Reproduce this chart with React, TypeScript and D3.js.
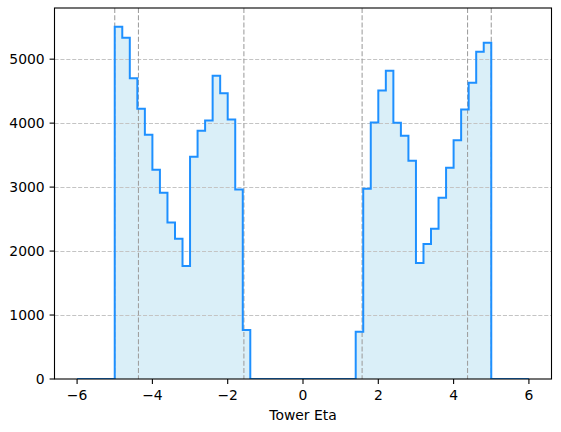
import React from "react";
import * as d3 from "d3";

// Histogram of tower eta: 60 bins of width 0.2 from -6 to 6
const binStart = -6;
const binWidth = 0.2;
const counts = [
  0, 0, 0, 0, 0,
  5505, 5333, 4703, 4224, 3818, 3271, 2911, 2448, 2193, 1766,
  3474, 3880, 4042, 4740, 4469, 4057, 2964, 766,
  0, 0, 0, 0, 0, 0, 0, 0, 0, 0, 0, 0, 0, 0,
  740, 2974, 4010, 4510, 4818, 4005, 3802, 3411, 1813, 2109,
  2349, 2833, 3302, 3734, 4214, 4630, 5115, 5255,
  0, 0, 0, 0, 0,
];
const boundaryLines = [-5.0, -4.37, -1.57, 1.57, 4.37, 5.0];
const xTicks = [-6, -4, -2, 0, 2, 4, 6];
const yTicks = [0, 1000, 2000, 3000, 4000, 5000];
const xLabel = "Tower Eta";

const W = 561;
const H = 432;
const left = 54.5;
const right = 551.5;
const top = 8;
const bottom = 379;
const FONT = "DejaVu Sans, Liberation Sans, sans-serif";

export default function App() {
  const x = d3.scaleLinear().domain([-6.6, 6.6]).range([left, right]);
  const y = d3.scaleLinear().domain([0, 5800]).range([bottom, top]);

  const pts: [number, number][] = [];
  counts.forEach((c, i) => {
    const e0 = binStart + i * binWidth;
    const e1 = e0 + binWidth;
    pts.push([e0, c]);
    pts.push([e1, c]);
  });

  const line = d3
    .line<[number, number]>()
    .x((d) => x(d[0]))
    .y((d) => y(d[1]));
  const area = d3
    .area<[number, number]>()
    .x((d) => x(d[0]))
    .y0(y(0))
    .y1((d) => y(d[1]));

  return (
    <svg
      width={W}
      height={H}
      style={{ position: "absolute", left: 0, top: 0, background: "#fff" }}
      fontFamily={FONT}
    >
      <rect x={0} y={0} width={W} height={H} fill="#fff" />
      <defs>
        <clipPath id="plotclip">
          <rect x={left} y={top} width={right - left} height={bottom - top} />
        </clipPath>
      </defs>
      <g clipPath="url(#plotclip)">
        <path d={area(pts) || ""} fill="#daeff8" stroke="none" />
        {yTicks.map((t) => (
          <line
            key={"g" + t}
            x1={left}
            x2={right}
            y1={Math.round(y(t)) + 0.5}
            y2={Math.round(y(t)) + 0.5}
            stroke="#c4c4c4"
            strokeWidth={1}
            strokeDasharray="4.1,1.8"
          />
        ))}
        {boundaryLines.map((b) => (
          <line
            key={"b" + b}
            x1={x(b)}
            x2={x(b)}
            y1={top}
            y2={bottom}
            stroke="#a0a0a0"
            strokeWidth={1.1}
            strokeDasharray="5,2.2"
          />
        ))}
        <path
          d={line(pts) || ""}
          fill="none"
          stroke="#1e90ff"
          strokeWidth={2}
          strokeLinejoin="miter"
        />
      </g>
      {/* spines */}
      <rect
        x={left}
        y={top}
        width={right - left}
        height={bottom - top}
        fill="none"
        stroke="#000"
        strokeWidth={1.1}
      />
      {/* x ticks */}
      {xTicks.map((t) => (
        <g key={"x" + t}>
          <line x1={x(t)} x2={x(t)} y1={bottom} y2={bottom + 4.9} stroke="#000" strokeWidth={1.1} />
          <text x={x(t)} y={399.5} fontSize={13.9} textAnchor="middle" fill="#000">
            {t < 0 ? "\u2212" + Math.abs(t) : String(t)}
          </text>
        </g>
      ))}
      {/* y ticks */}
      {yTicks.map((t) => (
        <g key={"y" + t}>
          <line x1={left - 4.9} x2={left} y1={y(t)} y2={y(t)} stroke="#000" strokeWidth={1.1} />
          <text
            x={left - 9.8}
            y={y(t) + 5}
            fontSize={13.9}
            textAnchor="end"
            fill="#000"
          >
            {String(t)}
          </text>
        </g>
      ))}
      <text x={(left + right) / 2} y={420} fontSize={13.9} textAnchor="middle" fill="#000">
        {xLabel}
      </text>
    </svg>
  );
}
